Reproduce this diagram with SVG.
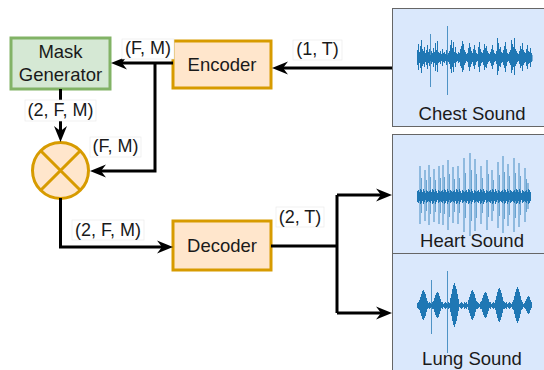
<svg xmlns="http://www.w3.org/2000/svg" width="544" height="370" viewBox="0 0 544 370">
  <style>
    text { font-family: "Liberation Sans", Arial, Helvetica, sans-serif; fill: #1a1a1a; text-anchor: middle; }
    .node { font-size: 18.5px; }
    .lbl { font-size: 18px; }
    .lbg { fill: #ffffff; stroke: #e8e8e8; stroke-width: 0.6; }
    .orange { fill: #ffe6cc; stroke: #d79b00; stroke-width: 3; }
    .green { fill: #d5e8d4; stroke: #82b366; stroke-width: 3; }
    .audio { fill: #dae8fc; stroke: #666666; stroke-width: 1; }
    .wire { fill: none; stroke: #000000; stroke-width: 3; stroke-linejoin: miter; }
    .wave { fill: none; stroke: #1f77b4; stroke-width: 1; }
  </style>
  <defs>
    <marker id="arrow" markerUnits="userSpaceOnUse" viewBox="-17 -8 18 16" markerWidth="18" markerHeight="16" refX="-8" refY="0" orient="auto">
      <path d="M0 0 L-16 -6.5 L-11 0 L-16 6.5 Z" fill="#000000"/>
    </marker>
    <!-- dense noise band of the heart recording -->
    <pattern id="heartBand" patternUnits="userSpaceOnUse" x="417" y="181" width="12" height="30">
      <path class="wave" d="M0.5 10V21M1.5 9V22M2.5 11V20M3.5 8V23M4.5 9V22M5.5 11V20M6.5 8V23M7.5 10V21M8.5 12V19M9.5 9V22M10.5 10V21M11.5 11V20"/>
    </pattern>
    <!-- quiet baseline of the lung recording -->
    <pattern id="lungBase" patternUnits="userSpaceOnUse" x="417" y="300" width="8" height="11">
      <path class="wave" d="M0.5 3V8M1.5 2V9M2.5 4V7M3.5 3V8M4.5 2V9M5.5 3V8M6.5 4V7M7.5 2V9"/>
    </pattern>
  </defs>

  <!-- sound panels -->
  <g id="chest-sound">
    <rect class="audio" x="392.5" y="8.5" width="160" height="118"/>
    <g transform="translate(0.5 0)">
      <path class="wave" d="M417 50V65M418 44V70M419 52V63M420 46V68M421 40V73M422 49V66M423 51V64M424 47V67M425 53V62M426 50V65M427 45V69M428 52V63M429 49V66M431 51V64M432 53V62M433 48V67M434 52V63M435 43V71M436 50V65M437 41V72M438 52V63M439 53V62M440 51V64M441 54V61M442 49V66M443 53V62M444 52V63M445 54V61M446 50V65M448 53V62M449 51V64M450 45V69M451 40V73M452 48V67M453 42V72M454 52V63M455 47V67M456 53V62M457 54V61M458 52V63M459 53V62M460 49V66M461 46V68M462 41V72M463 44V70M464 50V65M465 52V63M466 54V61M467 53V62M468 48V67M469 43V71M470 47V67M471 51V64M472 53V62M473 49V66M474 45V69M475 50V65M476 53V62M477 54V61M478 47V67M479 42V72M480 49V66M481 52V63M482 53V62M483 50V65M484 44V70M485 48V67M486 46V68M487 51V64M488 53V62M489 54V61M490 52V63M491 49V66M492 45V69M493 50V65M494 53V62M495 54V61M496 51V64M497 38V75M498 43V71M499 49V66M500 47V67M501 52V63M502 53V62M503 50V65M504 46V68M505 42V72M506 49V66M507 53V62M508 54V61M509 52V63M510 50V65M511 40V73M512 44V70M513 47V67M514 38V75M515 49V66M516 51V64M517 53V62M518 54V61M519 51V64M520 46V68M521 49V66M522 43V71M523 50V65M524 52V63M525 53V62M526 49V66M527 45V69M528 51V64M529 52V63M530 48V67M531 53V62"/>
      <path class="wave" d="M430 34V87M447 26V95" stroke-opacity="0.75"/>
      <rect x="417" y="55" width="115" height="6" fill="#1f77b4"/>
    </g>
    <text class="node" x="472" y="120">Chest Sound</text>
  </g>

  <g id="heart-sound">
    <rect class="audio" x="392.5" y="134.5" width="160" height="119"/>
    <rect x="417" y="181" width="114" height="30" fill="url(#heartBand)"/>
    <rect x="417" y="193" width="114" height="7" fill="#1f77b4"/>
    <path class="wave" stroke-opacity="0.8" stroke-width="1.2" d="M420 166V224M425 170V221M429 165V225M434 169V222M439 166V224M443 165V225M448 160V230M453 167V223M458 166V224M464 158V232M470 153V236M475 159V231M481 166V224M487 160V230M492 170V221M498 162V228M503 156V233M508 164V226M514 158V232M519 163V227M525 168V222M528 183V209"/>
    <path class="wave" stroke-opacity="0.6" d="M421.5 178V213M426.5 180V211M430.5 177V214M435.5 180V212M440.5 178V213M444.5 177V214M449.5 174V217M454.5 179V212M459.5 178V213M465.5 173V218M471.5 170V221M476.5 174V218M482.5 178V213M488.5 174V217M493.5 180V211M499.5 175V216M504.5 172V219M509.5 176V215M515.5 173V218M520.5 176V215M526.5 179V212"/>
    <text class="node" x="472" y="247">Heart Sound</text>
  </g>

  <g id="lung-sound">
    <rect class="audio" x="392.5" y="253.5" width="160" height="130"/>
    <rect x="417" y="300" width="114" height="11" fill="url(#lungBase)"/>
    <rect x="417" y="304" width="114" height="3" fill="#1f77b4"/>
    <g transform="translate(0.5 0)">
      <path class="wave" d="M419 300V310M420 297V313M421 294V316M422 291V319M423 290V320M424 292V318M425 294V316M426 298V312M427 301V309M433 301V309M434 298V312M435 295V315M436 293V317M437 292V318M438 293V317M439 296V314M440 299V311M441 302V308M450 298V312M451 294V316M452 289V321M453 285V325M454 283V327M455 286V324M456 289V321M457 294V316M458 299V311M468 300V310M469 297V313M470 294V316M471 291V319M472 290V320M473 292V318M474 294V316M475 298V312M476 301V309M481 301V309M482 298V312M483 295V315M484 293V317M485 292V318M486 293V317M487 296V314M488 299V311M489 302V308M495 300V310M496 296V314M497 292V318M498 289V321M499 288V322M500 290V320M501 293V317M502 297V313M503 301V309M513 300V310M514 296V314M515 292V318M516 289V321M517 287V323M518 289V321M519 292V318M520 296V314M521 300V310M525 301V309M526 299V311M527 297V313M528 296V314M529 297V313M530 300V310M531 302V308"/>
      <path class="wave" stroke-opacity="0.75" d="M431 280V334M447 271V353"/>
    </g>
    <text class="node" x="472" y="365">Lung Sound</text>
  </g>

  <!-- processing blocks -->
  <g id="mask-generator">
    <rect class="green" x="11" y="38" width="99" height="51"/>
    <text class="node" x="60.5" y="58">Mask</text>
    <text class="node" x="60.5" y="81">Generator</text>
  </g>

  <g id="encoder">
    <rect class="orange" x="173" y="41" width="98" height="47"/>
    <text class="node" x="222" y="71">Encoder</text>
  </g>

  <g id="multiply">
    <circle class="orange" cx="60.5" cy="170.5" r="28"/>
    <path d="M40.7 150.7L80.3 190.3M80.3 150.7L40.7 190.3" stroke="#d79b00" stroke-width="3"/>
  </g>

  <g id="decoder">
    <rect class="orange" x="173" y="221" width="98" height="49"/>
    <text class="node" x="222" y="252">Decoder</text>
  </g>

  <!-- connectors -->
  <g id="connectors">
    <path class="wire" d="M392 68H280" marker-end="url(#arrow)"/>
    <path class="wire" d="M173 63H119" marker-end="url(#arrow)"/>
    <path class="wire" d="M155 63V171H98" marker-end="url(#arrow)"/>
    <path class="wire" d="M60.5 89V134" marker-end="url(#arrow)"/>
    <path class="wire" d="M60.5 198V247H165" marker-end="url(#arrow)"/>
    <path class="wire" d="M271 246H337"/>
    <path class="wire" d="M337 195V313"/>
    <path class="wire" d="M337 195H384" marker-end="url(#arrow)"/>
    <path class="wire" d="M337 313H384" marker-end="url(#arrow)"/>

    <rect class="lbg" x="122" y="39" width="52" height="20"/>
    <text class="lbl" x="148" y="54">(F, M)</text>
    <rect class="lbg" x="293" y="40" width="49" height="20"/>
    <text class="lbl" x="317.5" y="55">(1, T)</text>
    <rect class="lbg" x="25" y="100" width="71" height="21"/>
    <text class="lbl" x="60.5" y="116">(2, F, M)</text>
    <rect class="lbg" x="90" y="137" width="51" height="20"/>
    <text class="lbl" x="115.5" y="152">(F, M)</text>
    <rect class="lbg" x="72" y="220" width="72" height="20"/>
    <text class="lbl" x="108" y="236">(2, F, M)</text>
    <rect class="lbg" x="276" y="207" width="48" height="20"/>
    <text class="lbl" x="300" y="223">(2, T)</text>
  </g>
</svg>
